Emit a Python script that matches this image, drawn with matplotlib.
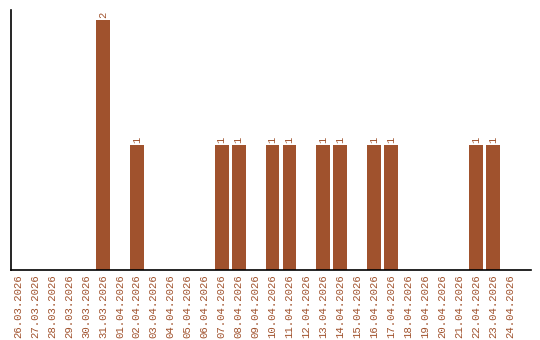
import matplotlib
matplotlib.use("Agg")
import matplotlib.pyplot as plt

# daily counts
dates = ["26.03.2026", "27.03.2026", "28.03.2026", "29.03.2026", "30.03.2026",
         "31.03.2026", "01.04.2026", "02.04.2026", "03.04.2026", "04.04.2026",
         "05.04.2026", "06.04.2026", "07.04.2026", "08.04.2026", "09.04.2026",
         "10.04.2026", "11.04.2026", "12.04.2026", "13.04.2026", "14.04.2026",
         "15.04.2026", "16.04.2026", "17.04.2026", "18.04.2026", "19.04.2026",
         "20.04.2026", "21.04.2026", "22.04.2026", "23.04.2026", "24.04.2026"]
counts = [0, 0, 0, 0, 0, 2, 0, 1, 0, 0, 0, 0, 1, 1, 0,
          1, 1, 0, 1, 1, 0, 1, 1, 0, 0, 0, 0, 1, 1, 0]

color = "#A0522D"
font = "Liberation Mono"

fig = plt.figure(figsize=(5.4, 3.4), dpi=100)
ax = fig.add_axes([10.5 / 540, 70 / 340, 520.5 / 540, 260 / 340])

x = list(range(len(dates)))
bars = ax.bar(x, counts, width=0.82, color=color)

for xi, c in zip(x, counts):
    if c > 0:
        ax.text(xi, c + 0.02, str(c), rotation=90, ha="center", va="bottom",
                color=color, fontsize=7.5, family=font)

ax.set_xlim(-0.45, 30.24)
ax.set_ylim(0, 2.08)
ax.set_xticks(x)
ax.set_xticklabels(dates, rotation=90, color=color, fontsize=7.7, family=font)
ax.tick_params(axis="x", length=0, pad=3)
ax.set_yticks([])
ax.spines["top"].set_visible(False)
ax.spines["right"].set_visible(False)
ax.spines["left"].set_linewidth(1.2)
ax.spines["bottom"].set_linewidth(1.2)

plt.savefig("out.png", dpi=100)
